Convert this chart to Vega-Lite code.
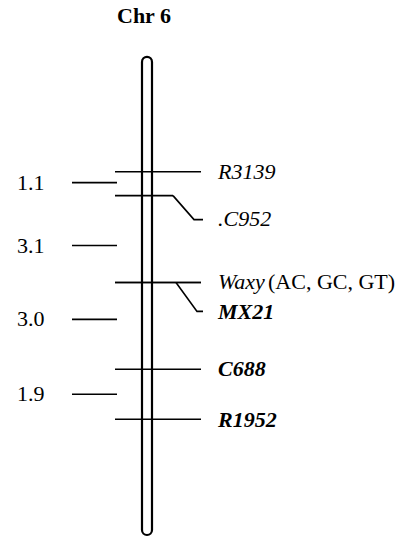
{
  "$schema": "https://vega.github.io/schema/vega-lite/v6.json",
  "width": 401,
  "height": 537,
  "autosize": {"type": "fit", "contains": "padding"},
  "padding": 0,
  "background": "white",
  "config": {"view": {"stroke": null}, "text": {"font": "Liberation Serif", "fontSize": 22, "color": "black"}},
  "datasets": {
    "chrom": [{"name": "Chr 6", "left": 142, "right": 152, "top": 57, "bottom": 536}],
    "markers": [
      {"marker": "R3139", "pos": 172, "lpos": 172.5, "from": 115, "to": 201, "set": "plain"},
      {"marker": ".C952", "pos": 196, "lpos": 219.5, "from": 115, "to": 173, "set": "plain"},
      {"marker": "Waxy", "pos": 283, "lpos": 283, "from": 115, "to": 201, "set": "plain"},
      {"marker": "MX21", "pos": 283, "lpos": 312.5, "from": 115, "to": 201, "set": "bold"},
      {"marker": "C688", "pos": 370, "lpos": 370, "from": 115, "to": 201, "set": "bold"},
      {"marker": "R1952", "pos": 420, "lpos": 421, "from": 115, "to": 201, "set": "bold"}
    ],
    "connectors": [
      {"marker": "C952", "step": 1, "px": 173, "py": 196},
      {"marker": "C952", "step": 2, "px": 194, "py": 220},
      {"marker": "C952", "step": 3, "px": 203, "py": 220},
      {"marker": "MX21", "step": 1, "px": 176, "py": 283},
      {"marker": "MX21", "step": 2, "px": 197, "py": 312},
      {"marker": "MX21", "step": 3, "px": 203, "py": 312}
    ],
    "intervals": [
      {"dist": "1.1", "pos": 183},
      {"dist": "3.1", "pos": 246},
      {"dist": "3.0", "pos": 320},
      {"dist": "1.9", "pos": 395}
    ],
    "alleles": [{"text": "(AC, GC, GT)", "lpos": 283}]
  },
  "layer": [
    {
      "data": {"name": "chrom"},
      "mark": {"type": "rect", "cornerRadius": 5, "fill": "white", "stroke": "black", "strokeWidth": 2.2},
      "encoding": {
        "x": {"field": "left", "type": "quantitative", "scale": {"domain": [0, 401], "nice": false, "zero": false}, "axis": null},
        "x2": {"field": "right"},
        "y": {"field": "top", "type": "quantitative", "scale": {"domain": [0, 537], "reverse": true, "nice": false, "zero": false}, "axis": null},
        "y2": {"field": "bottom"}
      }
    },
    {
      "data": {"name": "markers"},
      "mark": {"type": "rule", "color": "black", "strokeWidth": 1.6},
      "encoding": {
        "x": {"field": "from", "type": "quantitative", "scale": {"domain": [0, 401], "nice": false, "zero": false}, "axis": null},
        "x2": {"field": "to"},
        "y": {"field": "pos", "type": "quantitative", "scale": {"domain": [0, 537], "reverse": true, "nice": false, "zero": false}, "axis": null}
      }
    },
    {
      "data": {"name": "intervals"},
      "mark": {"type": "rule", "color": "black", "strokeWidth": 1.6},
      "encoding": {
        "x": {"datum": 72, "type": "quantitative", "scale": {"domain": [0, 401], "nice": false, "zero": false}, "axis": null},
        "x2": {"datum": 117},
        "y": {"field": "pos", "type": "quantitative", "scale": {"domain": [0, 537], "reverse": true, "nice": false, "zero": false}, "axis": null}
      }
    },
    {
      "data": {"name": "connectors"},
      "mark": {"type": "line", "color": "black", "strokeWidth": 1.6},
      "encoding": {
        "x": {"field": "px", "type": "quantitative", "scale": {"domain": [0, 401], "nice": false, "zero": false}, "axis": null},
        "y": {"field": "py", "type": "quantitative", "scale": {"domain": [0, 537], "reverse": true, "nice": false, "zero": false}, "axis": null},
        "detail": {"field": "marker"},
        "order": {"field": "step"}
      }
    },
    {
      "data": {"name": "markers"},
      "transform": [{"filter": "datum.set === 'plain'"}],
      "mark": {"type": "text", "align": "left", "baseline": "middle", "fontStyle": "italic"},
      "encoding": {
        "x": {"datum": 218, "type": "quantitative", "scale": {"domain": [0, 401], "nice": false, "zero": false}, "axis": null},
        "y": {"field": "lpos", "type": "quantitative", "scale": {"domain": [0, 537], "reverse": true, "nice": false, "zero": false}, "axis": null},
        "text": {"field": "marker"}
      }
    },
    {
      "data": {"name": "markers"},
      "transform": [{"filter": "datum.set === 'bold'"}],
      "mark": {"type": "text", "align": "left", "baseline": "middle", "fontStyle": "italic", "fontWeight": "bold"},
      "encoding": {
        "x": {"datum": 218, "type": "quantitative", "scale": {"domain": [0, 401], "nice": false, "zero": false}, "axis": null},
        "y": {"field": "lpos", "type": "quantitative", "scale": {"domain": [0, 537], "reverse": true, "nice": false, "zero": false}, "axis": null},
        "text": {"field": "marker"}
      }
    },
    {
      "data": {"name": "alleles"},
      "mark": {"type": "text", "align": "left", "baseline": "middle"},
      "encoding": {
        "x": {"datum": 268, "type": "quantitative", "scale": {"domain": [0, 401], "nice": false, "zero": false}, "axis": null},
        "y": {"field": "lpos", "type": "quantitative", "scale": {"domain": [0, 537], "reverse": true, "nice": false, "zero": false}, "axis": null},
        "text": {"field": "text"}
      }
    },
    {
      "data": {"name": "intervals"},
      "mark": {"type": "text", "align": "left", "baseline": "middle"},
      "encoding": {
        "x": {"datum": 17, "type": "quantitative", "scale": {"domain": [0, 401], "nice": false, "zero": false}, "axis": null},
        "y": {"field": "pos", "type": "quantitative", "scale": {"domain": [0, 537], "reverse": true, "nice": false, "zero": false}, "axis": null},
        "text": {"field": "dist"}
      }
    },
    {
      "data": {"name": "chrom"},
      "mark": {"type": "text", "align": "center", "baseline": "middle", "fontWeight": "bold", "fontSize": 22},
      "encoding": {
        "x": {"datum": 144, "type": "quantitative", "scale": {"domain": [0, 401], "nice": false, "zero": false}, "axis": null},
        "y": {"datum": 16, "type": "quantitative", "scale": {"domain": [0, 537], "reverse": true, "nice": false, "zero": false}, "axis": null},
        "text": {"field": "name"}
      }
    }
  ]
}
